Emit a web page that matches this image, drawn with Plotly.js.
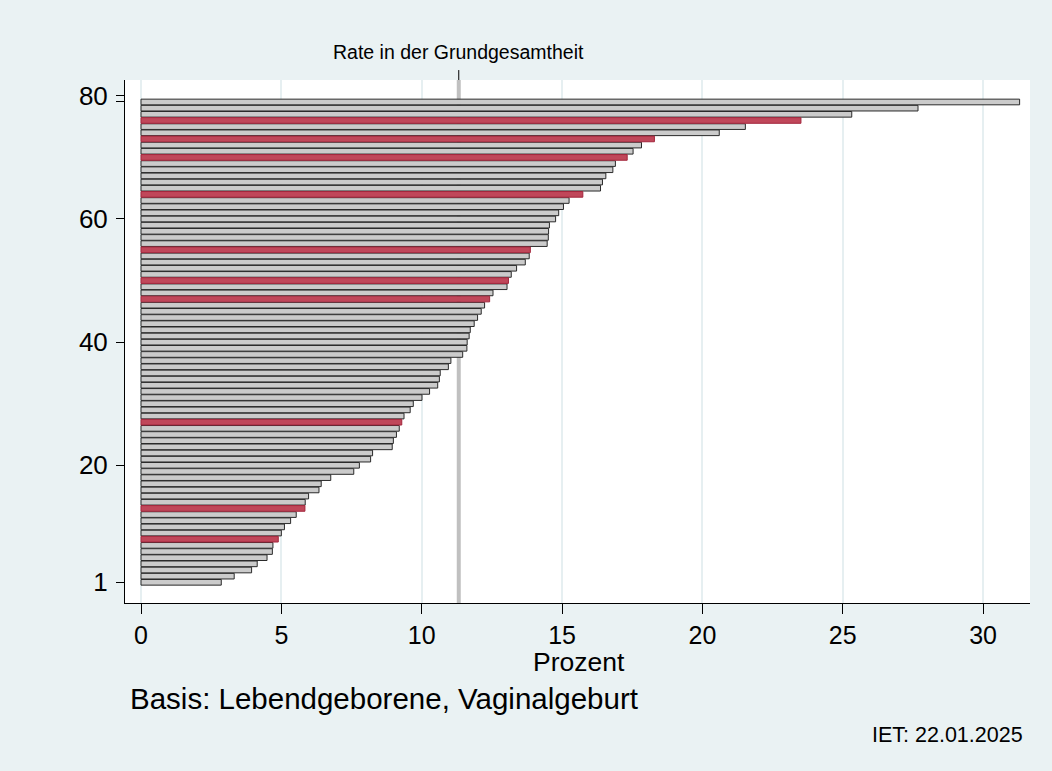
<!DOCTYPE html>
<html>
<head>
<meta charset="utf-8">
<script src="https://cdn.plot.ly/plotly-3.0.1.min.js"></script>
<style>
  html, body { margin: 0; padding: 0; background: #EAF2F3; }
  #chart { width: 1052px; height: 771px; }
</style>
</head>
<body>
<div id="chart"></div>
<script>
// Rank positions 1..79 (bottom to top) and their rates in percent
const rates = [
  2.86, 3.32, 3.94, 4.14, 4.49, 4.68, 4.70, 4.89, 5.00, 5.11,
  5.33, 5.53, 5.84, 5.85, 5.97, 6.34, 6.42, 6.76, 7.58, 7.78,
  8.18, 8.25, 8.95, 8.99, 9.10, 9.20, 9.29, 9.37, 9.59, 9.70,
  10.01, 10.28, 10.57, 10.63, 10.66, 10.95, 11.04, 11.46, 11.61, 11.62,
  11.69, 11.73, 11.87, 11.99, 12.12, 12.24, 12.42, 12.54, 13.04, 13.09,
  13.19, 13.38, 13.69, 13.83, 13.87, 14.47, 14.51, 14.52, 14.55, 14.77,
  14.88, 15.05, 15.25, 15.74, 16.37, 16.44, 16.56, 16.81, 16.90, 17.32,
  17.53, 17.83, 18.29, 20.60, 21.53, 23.51, 25.32, 27.68, 31.30
];
const highlightedRanks = [8, 13, 27, 47, 50, 55, 64, 70, 73, 76];
const populationRate = 11.32;
const yTickVals = [1, 20, 40, 60, 79, 80];
const yTickText = ['1', '20', '40', '60', '', '80'];
const xTickVals = [0, 5, 10, 15, 20, 25, 30];
const xTitle = 'Prozent';
const refLabel = 'Rate in der Grundgesamtheit';
const noteText = 'Basis: Lebendgeborene, Vaginalgeburt';
const dateText = 'IET: 22.01.2025';

const ranks = rates.map((_, i) => i + 1);
const isHi = ranks.map(r => highlightedRanks.includes(r));

const FONT = 'Liberation Sans, Arial, Helvetica, sans-serif';

const grayTrace = {
  type: 'bar', orientation: 'h',
  x: rates.filter((_, i) => !isHi[i]),
  y: ranks.filter((_, i) => !isHi[i]),
  width: 0.92,
  marker: { color: '#cbcbcb', line: { color: '#2a2a2a', width: 1 } },
  hoverinfo: 'skip', showlegend: false
};
const redTrace = {
  type: 'bar', orientation: 'h',
  x: rates.filter((_, i) => isHi[i]),
  y: ranks.filter((_, i) => isHi[i]),
  width: 0.92,
  marker: { color: '#c0475a', line: { color: '#a3263c', width: 1 } },
  hoverinfo: 'skip', showlegend: false
};

const layout = {
  width: 1052, height: 771,
  margin: { l: 125, r: 22, t: 80, b: 168, pad: 0 },
  paper_bgcolor: '#EAF2F3',
  plot_bgcolor: '#ffffff',
  barmode: 'overlay',
  font: { family: FONT, color: '#000000' },
  xaxis: {
    range: [-0.57, 31.67],
    tickvals: xTickVals,
    ticks: 'outside', ticklen: 10, tickwidth: 1, tickcolor: '#000',
    tickfont: { size: 25, family: FONT, color: '#000' },
    showgrid: true, gridcolor: '#E6EFF1', gridwidth: 2,
    zeroline: false,
    showline: true, linecolor: '#000', linewidth: 1,
    fixedrange: true
  },
  yaxis: {
    range: [-2.36, 82.57],
    tickvals: yTickVals, ticktext: yTickText,
    ticks: 'outside', ticklen: 8, tickwidth: 1, tickcolor: '#000',
    ticklabelstandoff: 3,
    tickfont: { size: 26, family: FONT, color: '#000' },
    showgrid: false, zeroline: false,
    showline: true, linecolor: '#000', linewidth: 1,
    fixedrange: true
  },
  shapes: [
    { type: 'line', xref: 'x', yref: 'paper', x0: populationRate, x1: populationRate,
      y0: 0, y1: 1, layer: 'between', line: { color: '#c0c0c0', width: 4 } },
    { type: 'line', xref: 'x', yref: 'paper', x0: populationRate, x1: populationRate,
      y0: 1, y1: 1.019, line: { color: '#000', width: 1 } }
  ],
  annotations: [
    { text: refLabel, xref: 'x', yref: 'paper', x: populationRate, y: 1.0535,
      xanchor: 'center', yanchor: 'middle', showarrow: false,
      font: { size: 19.5, family: FONT, color: '#000' } },
    { text: xTitle, xref: 'paper', yref: 'paper', x: 0.5016, y: -0.1125,
      xanchor: 'center', yanchor: 'middle', showarrow: false,
      font: { size: 26.5, family: FONT, color: '#000' } },
    { text: noteText, xref: 'paper', yref: 'paper', x: 0.003, y: -0.1825,
      xanchor: 'left', yanchor: 'middle', showarrow: false,
      font: { size: 29.5, family: FONT, color: '#000' } },
    { text: dateText, xref: 'paper', yref: 'paper', x: 0.9945, y: -0.2515,
      xanchor: 'right', yanchor: 'middle', showarrow: false,
      font: { size: 21.5, family: FONT, color: '#000' } }
  ]
};

Plotly.newPlot('chart', [grayTrace, redTrace], layout, { displayModeBar: false, staticPlot: true });
</script>
</body>
</html>
